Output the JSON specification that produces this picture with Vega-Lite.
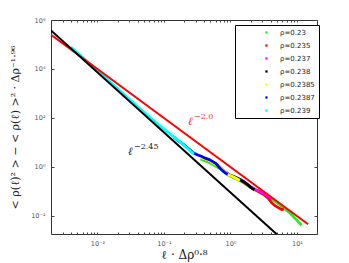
{
  "$schema": "https://vega.github.io/schema/vega-lite/v6.json",
  "width": 266,
  "height": 214,
  "autosize": "none",
  "padding": {"left": 51, "top": 20, "right": 32, "bottom": 29},
  "background": "white",
  "config": {
    "view": {"stroke": "#333", "strokeWidth": 1},
    "axis": {"labelFont": "DejaVu Sans", "labelFontSize": 6.5, "labelColor": "#555", "tickColor": "#444", "domain": false, "grid": false, "titleFont": "DejaVu Serif", "titleFontSize": 11, "titleFontWeight": "normal", "titleColor": "#222"}
  },
  "datasets": {
    "fits": [
      {"fit": "a", "x": 0.002, "y": 250000},
      {"fit": "a", "x": 14.7, "y": 0.004628},
      {"fit": "b", "x": 0.002, "y": 374000},
      {"fit": "b", "x": 6, "y": 0.00113}
    ],
    "series": [
      {"rho": "ρ=0.23", "x": 0.3548, "y": 2.138}, {"rho": "ρ=0.23", "x": 0.4467, "y": 1.66}, {"rho": "ρ=0.23", "x": 0.5623, "y": 1.202}, {"rho": "ρ=0.23", "x": 0.7079, "y": 0.8318}, {"rho": "ρ=0.23", "x": 0.8913, "y": 0.5012}, {"rho": "ρ=0.23", "x": 1.122, "y": 0.3631}, {"rho": "ρ=0.23", "x": 1.413, "y": 0.2754}, {"rho": "ρ=0.23", "x": 1.778, "y": 0.182}, {"rho": "ρ=0.23", "x": 2.239, "y": 0.1259}, {"rho": "ρ=0.23", "x": 2.818, "y": 0.0912}, {"rho": "ρ=0.23", "x": 3.548, "y": 0.06607}, {"rho": "ρ=0.23", "x": 4.467, "y": 0.04365}, {"rho": "ρ=0.23", "x": 5.248, "y": 0.03162}, {"rho": "ρ=0.23", "x": 6.31, "y": 0.02089}, {"rho": "ρ=0.23", "x": 7.413, "y": 0.01514}, {"rho": "ρ=0.23", "x": 8.511, "y": 0.01047}, {"rho": "ρ=0.23", "x": 10, "y": 0.006607}, {"rho": "ρ=0.23", "x": 10.96, "y": 0.005012}, {"rho": "ρ=0.23", "x": 11.75, "y": 0.004169},
      {"rho": "ρ=0.235", "x": 1.259, "y": 0.3388}, {"rho": "ρ=0.235", "x": 1.585, "y": 0.2399}, {"rho": "ρ=0.235", "x": 1.995, "y": 0.1479}, {"rho": "ρ=0.235", "x": 2.512, "y": 0.1072}, {"rho": "ρ=0.235", "x": 3.162, "y": 0.07586}, {"rho": "ρ=0.235", "x": 3.715, "y": 0.05248}, {"rho": "ρ=0.235", "x": 4.169, "y": 0.03467}, {"rho": "ρ=0.235", "x": 4.677, "y": 0.0263}, {"rho": "ρ=0.235", "x": 5.248, "y": 0.02188}, {"rho": "ρ=0.235", "x": 5.888, "y": 0.0182}, {"rho": "ρ=0.235", "x": 6.31, "y": 0.01905},
      {"rho": "ρ=0.237", "x": 0.7943, "y": 0.6761}, {"rho": "ρ=0.237", "x": 1.0, "y": 0.4365}, {"rho": "ρ=0.237", "x": 1.259, "y": 0.3467}, {"rho": "ρ=0.237", "x": 1.585, "y": 0.2512}, {"rho": "ρ=0.237", "x": 1.995, "y": 0.1585}, {"rho": "ρ=0.237", "x": 2.399, "y": 0.1175}, {"rho": "ρ=0.237", "x": 2.818, "y": 0.1}, {"rho": "ρ=0.237", "x": 3.311, "y": 0.07586}, {"rho": "ρ=0.237", "x": 3.802, "y": 0.06026}, {"rho": "ρ=0.237", "x": 4.169, "y": 0.05248},
      {"rho": "ρ=0.238", "x": 0.3981, "y": 2.188}, {"rho": "ρ=0.238", "x": 0.4786, "y": 1.778}, {"rho": "ρ=0.238", "x": 0.5623, "y": 1.514}, {"rho": "ρ=0.238", "x": 0.6607, "y": 1.096}, {"rho": "ρ=0.238", "x": 0.7943, "y": 0.7079}, {"rho": "ρ=0.238", "x": 0.955, "y": 0.4786}, {"rho": "ρ=0.238", "x": 1.148, "y": 0.3981}, {"rho": "ρ=0.238", "x": 1.38, "y": 0.3162}, {"rho": "ρ=0.238", "x": 1.585, "y": 0.2512}, {"rho": "ρ=0.238", "x": 1.82, "y": 0.1905}, {"rho": "ρ=0.238", "x": 2.089, "y": 0.138}, {"rho": "ρ=0.238", "x": 2.291, "y": 0.1175},
      {"rho": "ρ=0.2385", "x": 0.3548, "y": 2.512}, {"rho": "ρ=0.2385", "x": 0.4169, "y": 2.089}, {"rho": "ρ=0.2385", "x": 0.5012, "y": 1.66}, {"rho": "ρ=0.2385", "x": 0.6026, "y": 1.259}, {"rho": "ρ=0.2385", "x": 0.7079, "y": 0.955}, {"rho": "ρ=0.2385", "x": 0.8318, "y": 0.631}, {"rho": "ρ=0.2385", "x": 0.955, "y": 0.4677}, {"rho": "ρ=0.2385", "x": 1.096, "y": 0.3981}, {"rho": "ρ=0.2385", "x": 1.259, "y": 0.3311}, {"rho": "ρ=0.2385", "x": 1.38, "y": 0.2818},
      {"rho": "ρ=0.2387", "x": 0.1413, "y": 16.6}, {"rho": "ρ=0.2387", "x": 0.166, "y": 11.48}, {"rho": "ρ=0.2387", "x": 0.1995, "y": 7.943}, {"rho": "ρ=0.2387", "x": 0.2399, "y": 5.248}, {"rho": "ρ=0.2387", "x": 0.2754, "y": 3.802}, {"rho": "ρ=0.2387", "x": 0.3162, "y": 3.162}, {"rho": "ρ=0.2387", "x": 0.3631, "y": 2.754}, {"rho": "ρ=0.2387", "x": 0.4169, "y": 2.291}, {"rho": "ρ=0.2387", "x": 0.4786, "y": 1.995}, {"rho": "ρ=0.2387", "x": 0.5495, "y": 1.622}, {"rho": "ρ=0.2387", "x": 0.6026, "y": 1.38}, {"rho": "ρ=0.2387", "x": 0.6607, "y": 1.047}, {"rho": "ρ=0.2387", "x": 0.7413, "y": 0.7586}, {"rho": "ρ=0.2387", "x": 0.8318, "y": 0.5754}, {"rho": "ρ=0.2387", "x": 0.912, "y": 0.5012},
      {"rho": "ρ=0.239", "x": 0.003981, "y": 79430}, {"rho": "ρ=0.239", "x": 0.00631, "y": 26300}, {"rho": "ρ=0.239", "x": 0.01, "y": 8511}, {"rho": "ρ=0.239", "x": 0.01585, "y": 2818}, {"rho": "ρ=0.239", "x": 0.02512, "y": 912}, {"rho": "ρ=0.239", "x": 0.03981, "y": 302}, {"rho": "ρ=0.239", "x": 0.0631, "y": 100}, {"rho": "ρ=0.239", "x": 0.08913, "y": 45.71}, {"rho": "ρ=0.239", "x": 0.1259, "y": 21.63}, {"rho": "ρ=0.239", "x": 0.1585, "y": 13.18}, {"rho": "ρ=0.239", "x": 0.1995, "y": 7.674}, {"rho": "ρ=0.239", "x": 0.2512, "y": 4.467}, {"rho": "ρ=0.239", "x": 0.2818, "y": 3.467}
    ],
    "lab": [
      {"k": "a", "x": 0.2296, "y": 51.8, "base": "ℓ", "exp": "−2.0"},
      {"k": "b", "x": 0.02876, "y": 3.09, "base": "ℓ", "exp": "−2.45"}
    ]
  },
  "resolve": {"axis": {"x": "independent", "y": "independent"}},
  "layer": [
    {
      "data": {"name": "series"},
      "mark": {"type": "line", "strokeWidth": 2.8, "clip": true},
      "encoding": {
        "x": {"field": "x", "type": "quantitative", "scale": {"type": "log", "domain": [0.002, 20], "nice": false},
          "axis": {"orient": "bottom", "values": [0.002, 0.003, 0.004, 0.005, 0.006, 0.007, 0.008, 0.009, 0.01, 0.02, 0.03, 0.04, 0.05, 0.06, 0.07, 0.08, 0.09, 0.1, 0.2, 0.3, 0.4, 0.5, 0.6, 0.7, 0.8, 0.9, 1, 2, 3, 4, 5, 6, 7, 8, 9, 10, 20], "labels": false, "tickSize": -2, "title": null}},
        "y": {"field": "y", "type": "quantitative", "scale": {"type": "log", "domain": [0.00184, 1000000], "nice": false},
          "axis": {"orient": "left", "values": [0.01, 1, 100, 10000, 1000000], "labels": false, "tickSize": -3, "title": null}},
        "color": {"field": "rho", "type": "nominal",
          "scale": {"domain": ["ρ=0.23", "ρ=0.235", "ρ=0.237", "ρ=0.238", "ρ=0.2385", "ρ=0.2387", "ρ=0.239"], "range": ["#22ee22", "#ff0000", "#ff00ff", "#000000", "#ffff00", "#0000ff", "#00ffff"]},
          "legend": {"orient": "none", "legendX": 184, "legendY": 5, "title": null, "padding": 4, "fillColor": "white", "strokeColor": "#000", "labelFont": "DejaVu Sans", "labelFontSize": 7, "labelColor": "#222", "symbolType": "square", "symbolSize": 5, "symbolStrokeWidth": 0, "rowPadding": 5, "symbolOffset": 24, "labelOffset": 10,
            "encode": {"symbols": {"update": {"fill": {"scale": "color", "field": "value"}, "opacity": {"value": 1}}}}}
        }
      }
    },
    {
      "data": {"name": "fits"},
      "mark": {"type": "line", "strokeWidth": 2, "clip": true},
      "encoding": {
        "x": {"field": "x", "type": "quantitative", "scale": {"type": "log", "domain": [0.002, 20], "nice": false},
          "axis": {"orient": "bottom", "values": [0.01, 0.1, 1, 10], "ticks": false, "labelPadding": 6, "labelExpr": "datum.value < 0.05 ? '10⁻²' : datum.value < 0.5 ? '10⁻¹' : datum.value < 5 ? '10⁰' : '10¹'", "title": "ℓ · Δρ⁰·⁸", "titlePadding": 3, "titleFontSize": 12}},
        "y": {"field": "y", "type": "quantitative", "scale": {"type": "log", "domain": [0.00184, 1000000], "nice": false},
          "axis": {"orient": "left", "values": [0.01, 1, 100, 10000, 1000000], "ticks": false, "labelPadding": 6, "labelExpr": "datum.value < 0.1 ? '10⁻²' : datum.value < 10 ? '10⁰' : datum.value < 1000 ? '10²' : datum.value < 100000 ? '10⁴' : '10⁶'", "title": "< ρ(ℓ)² > − < ρ(ℓ) >² · Δρ⁻¹·⁹⁶", "titlePadding": 10}},
        "stroke": {"field": "fit", "type": "nominal", "scale": {"domain": ["a", "b"], "range": ["#ff0000", "#000000"]}, "legend": null}
      }
    },
    {
      "data": {"name": "lab"},
      "transform": [{"filter": "datum.k == 'a'"}],
      "mark": {"type": "text", "align": "left", "baseline": "alphabetic", "font": "DejaVu Serif", "fontStyle": "italic", "fontSize": 11, "color": "#ff2a2a"},
      "encoding": {
        "x": {"field": "x", "type": "quantitative", "scale": {"type": "log", "domain": [0.002, 20], "nice": false},
          "axis": {"orient": "top", "values": [0.002, 0.003, 0.004, 0.005, 0.006, 0.007, 0.008, 0.009, 0.01, 0.02, 0.03, 0.04, 0.05, 0.06, 0.07, 0.08, 0.09, 0.1, 0.2, 0.3, 0.4, 0.5, 0.6, 0.7, 0.8, 0.9, 1, 2, 3, 4, 5, 6, 7, 8, 9, 10, 20], "labels": false, "tickSize": -2, "title": null}},
        "y": {"field": "y", "type": "quantitative", "scale": {"type": "log", "domain": [0.00184, 1000000], "nice": false},
          "axis": {"orient": "right", "values": [0.01, 1, 100, 10000, 1000000], "labels": false, "tickSize": -3, "title": null}},
        "text": {"field": "base"}
      }
    },
    {
      "data": {"name": "lab"},
      "transform": [{"filter": "datum.k == 'b'"}],
      "mark": {"type": "text", "align": "left", "baseline": "alphabetic", "font": "DejaVu Serif", "fontStyle": "italic", "fontSize": 11, "color": "#222222"},
      "encoding": {
        "x": {"field": "x", "type": "quantitative", "scale": {"type": "log", "domain": [0.002, 20], "nice": false}, "axis": null},
        "y": {"field": "y", "type": "quantitative", "scale": {"type": "log", "domain": [0.00184, 1000000], "nice": false}, "axis": null},
        "text": {"field": "base"}
      }
    },
    {
      "data": {"name": "lab"},
      "transform": [{"filter": "datum.k == 'a'"}],
      "mark": {"type": "text", "align": "left", "baseline": "alphabetic", "font": "DejaVu Serif", "fontSize": 8, "dx": 6, "dy": -6, "color": "#ff2a2a"},
      "encoding": {
        "x": {"field": "x", "type": "quantitative", "scale": {"type": "log", "domain": [0.002, 20], "nice": false}, "axis": null},
        "y": {"field": "y", "type": "quantitative", "scale": {"type": "log", "domain": [0.00184, 1000000], "nice": false}, "axis": null},
        "text": {"field": "exp"}
      }
    },
    {
      "data": {"name": "lab"},
      "transform": [{"filter": "datum.k == 'b'"}],
      "mark": {"type": "text", "align": "left", "baseline": "alphabetic", "font": "DejaVu Serif", "fontSize": 8, "dx": 6, "dy": -6, "color": "#222222"},
      "encoding": {
        "x": {"field": "x", "type": "quantitative", "scale": {"type": "log", "domain": [0.002, 20], "nice": false}, "axis": null},
        "y": {"field": "y", "type": "quantitative", "scale": {"type": "log", "domain": [0.00184, 1000000], "nice": false}, "axis": null},
        "text": {"field": "exp"}
      }
    }
  ]
}
